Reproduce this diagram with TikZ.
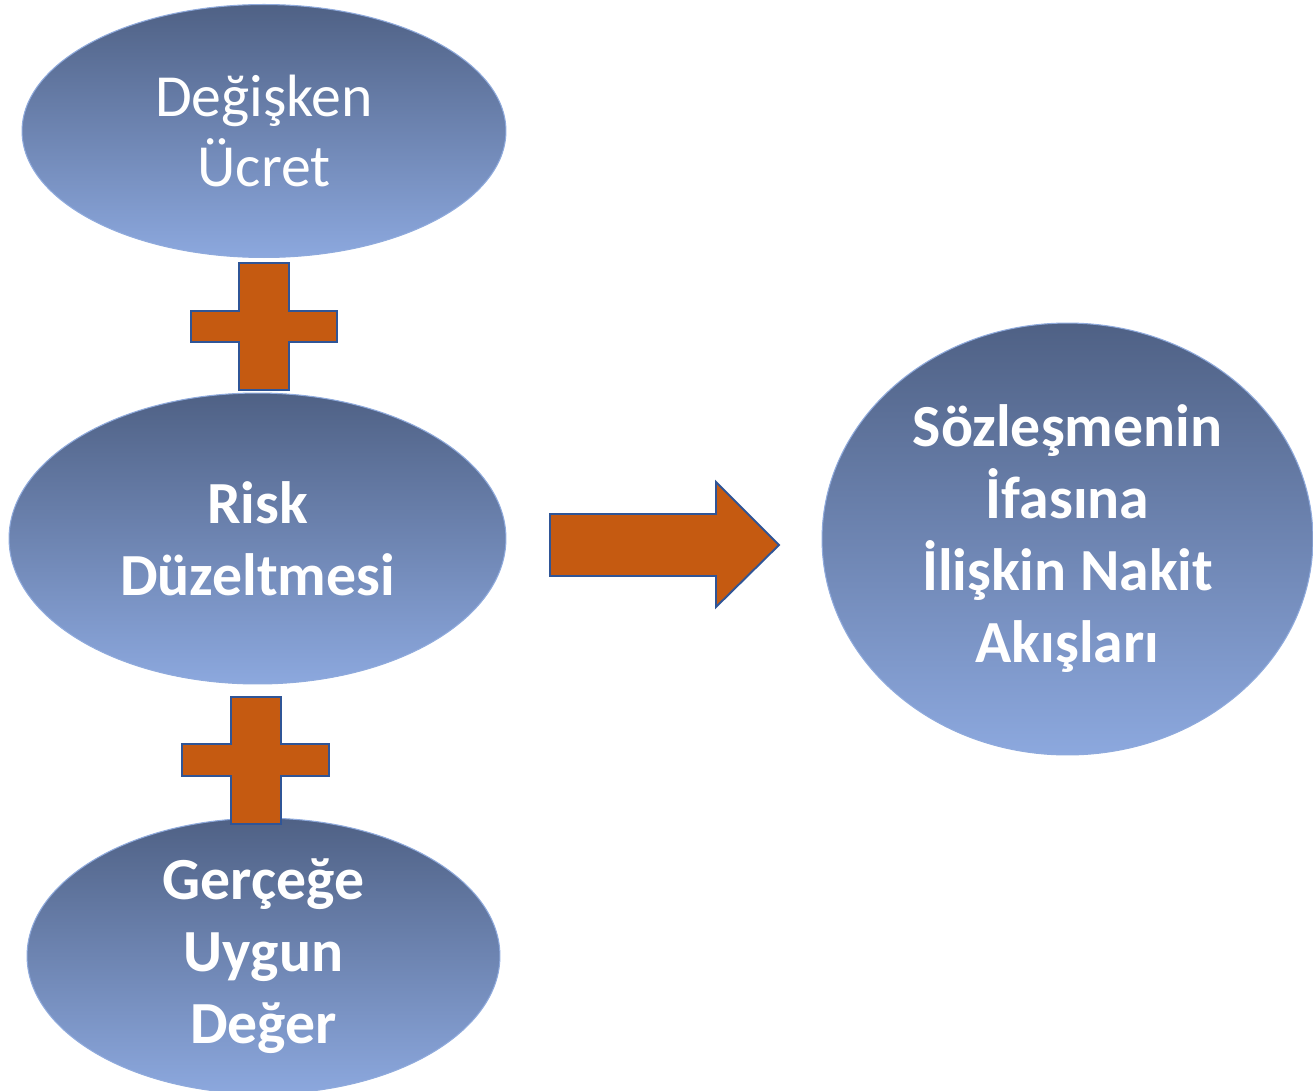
\documentclass[tikz,border=0pt]{standalone}
\usepackage{fontspec}
\setmainfont{Carlito}
\usepackage{xcolor}
\usetikzlibrary{shapes.geometric}
\definecolor{ovaltop}{RGB}{79,97,133}
\definecolor{ovalbot}{RGB}{140,168,222}
\definecolor{ovalline}{RGB}{143,170,220}
\definecolor{plusfill}{RGB}{197,90,17}
\definecolor{plusline}{RGB}{47,85,151}
\begin{document}
\begin{tikzpicture}[x=0.02cm,y=-0.02cm,
  oval/.style={ellipse, draw=ovalline, line width=0.6pt, top color=ovaltop, bottom color=ovalbot,
    text=white, align=center, inner sep=0pt},
  plusbox/.style={fill=plusfill, draw=plusline, line width=1.1pt, line join=miter}]
\useasboundingbox (0,0) rectangle (1313,1091);
% the four ovals
\node[oval, minimum width=9.68cm, minimum height=5.06cm, font=\fontsize{34}{40}\selectfont] (ucret) at (264,131) {Değişken\\Ücret};
\node[oval, minimum width=9.94cm, minimum height=5.82cm, font=\fontsize{34}{41}\selectfont\bfseries] (risk) at (257.5,538.5) {Risk\\Düzeltmesi};
\node[oval, minimum width=9.46cm, minimum height=5.28cm, font=\fontsize{34}{41}\selectfont\bfseries] (deger) at (263.5,956) {Gerçeğe\\Uygun\\Değer};
\node[oval, minimum width=9.82cm, minimum height=8.64cm, font=\fontsize{34}{41}\selectfont\bfseries] (nakit) at (1067.5,539) {Sözleşmenin\\İfasına\\İlişkin Nakit\\Akışları};
% plus signs
\draw[plusbox] (239,263) -- (289,263) -- (289,311) -- (337,311) -- (337,342) -- (289,342) -- (289,390) -- (239,390) -- (239,342) -- (191,342) -- (191,311) -- (239,311) -- cycle;
\draw[plusbox] (231,697) -- (281,697) -- (281,744) -- (329,744) -- (329,776) -- (281,776) -- (281,824) -- (231,824) -- (231,776) -- (182,776) -- (182,744) -- (231,744) -- cycle;
% block arrow
\draw[plusbox] (550,514) -- (716,514) -- (716,482) -- (779,545) -- (716,607) -- (716,576) -- (550,576) -- cycle;
\end{tikzpicture}
\end{document}
